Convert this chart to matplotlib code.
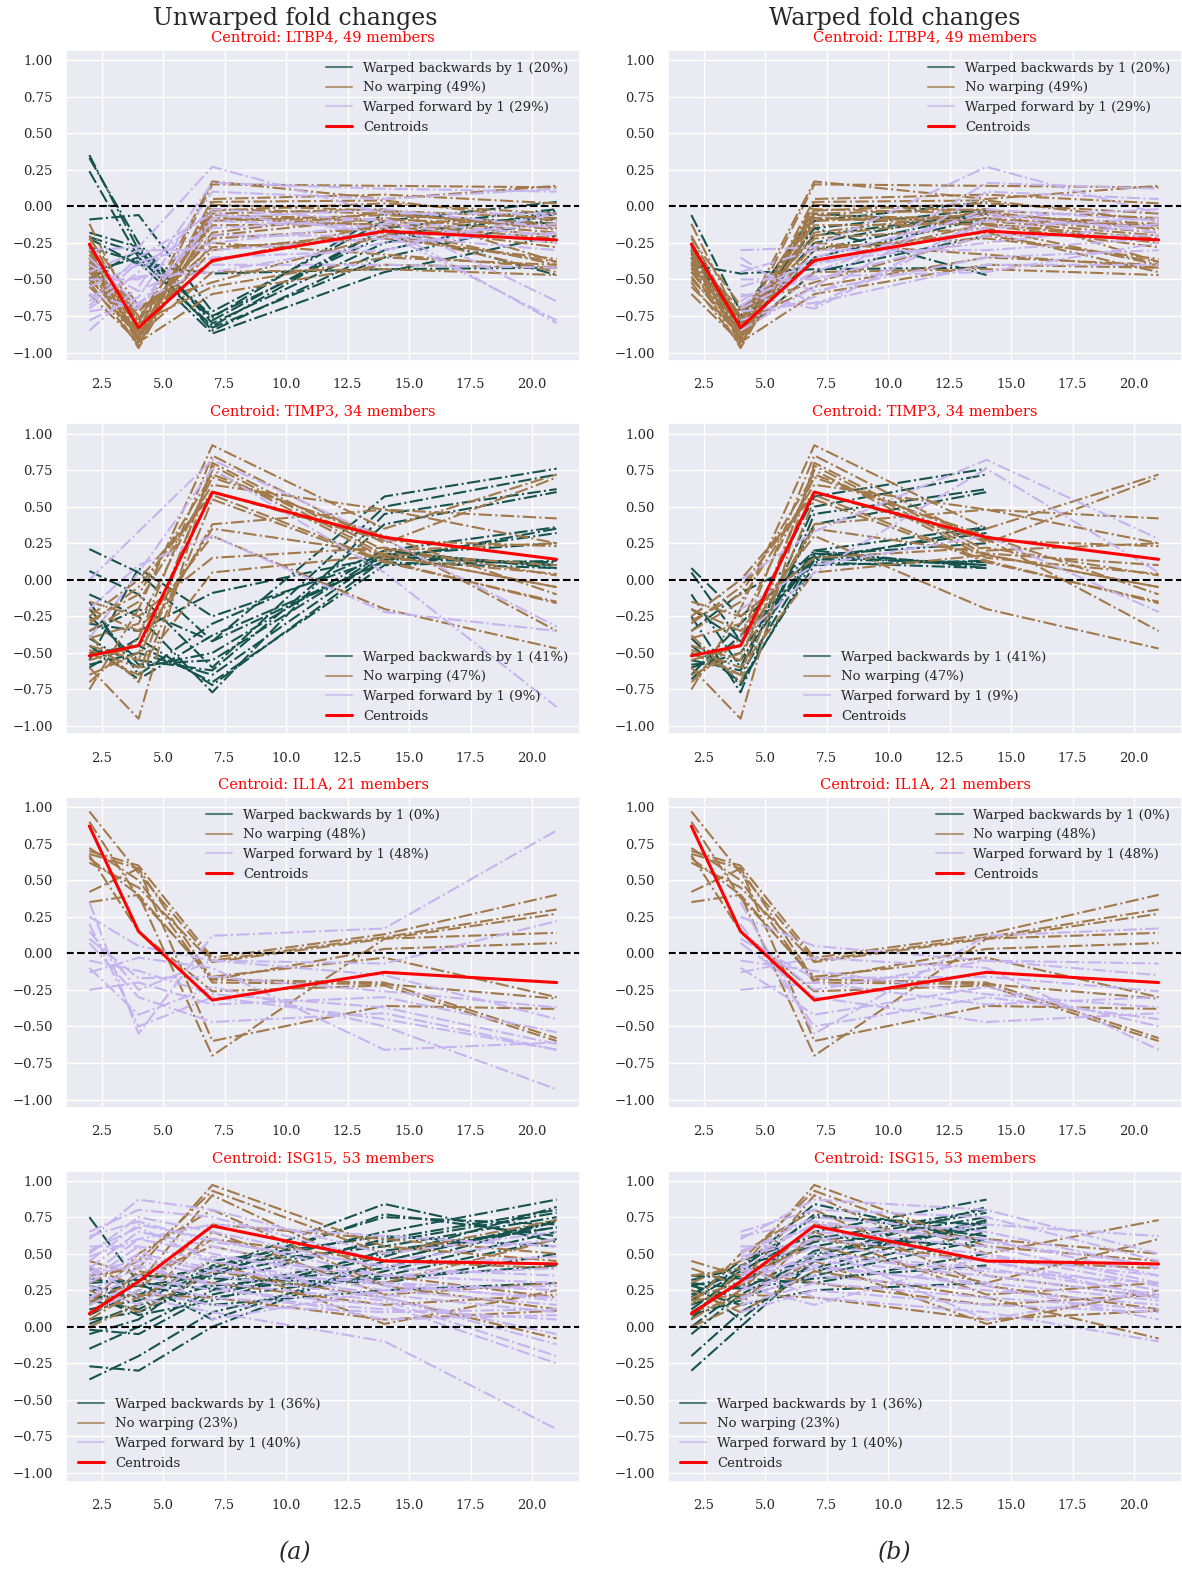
import numpy as np
import matplotlib
matplotlib.use("Agg")
import matplotlib.pyplot as plt
from matplotlib.lines import Line2D
import seaborn as sns

sns.set_theme(style="darkgrid", font="serif")
plt.rcParams["font.family"] = ["DejaVu Serif"]

days = [2, 4, 7, 14, 21]

# ---- LTBP4 cluster ----
ltbp4_centroid = [-0.26, -0.83, -0.37, -0.17, -0.23]
ltbp4_back = [
    [0.35, -0.30, -0.85, -0.30, -0.05],
    [0.33, -0.25, -0.80, -0.25, -0.03],
    [0.24, -0.35, -0.83, -0.35, -0.08],
    [-0.09, -0.06, -0.72, -0.10, 0.03],
    [-0.18, -0.28, -0.78, -0.15, -0.02],
    [-0.22, -0.40, -0.46, -0.43, -0.42],
    [-0.21, -0.32, -0.76, -0.05, -0.12],
    [-0.28, -0.38, -0.87, -0.45, -0.20],
    [-0.45, -0.35, -0.82, -0.15, -0.47],
    [-0.50, -0.30, -0.75, -0.20, -0.05],
]
ltbp4_none = [
    [-0.12, -0.80, 0.17, 0.05, 0.14],
    [-0.20, -0.85, 0.15, 0.14, 0.13],
    [-0.25, -0.90, 0.05, 0.08, 0.02],
    [-0.30, -0.95, 0.03, 0.04, -0.10],
    [-0.35, -0.92, -0.02, -0.05, -0.15],
    [-0.38, -0.88, -0.05, -0.02, -0.38],
    [-0.40, -0.82, -0.08, -0.10, -0.20],
    [-0.42, -0.97, -0.10, -0.06, -0.12],
    [-0.45, -0.86, -0.13, -0.12, -0.25],
    [-0.28, -0.78, -0.20, -0.08, -0.18],
    [-0.33, -0.75, -0.22, -0.15, -0.40],
    [-0.48, -0.90, -0.25, -0.33, -0.42],
    [-0.50, -0.84, -0.30, -0.18, -0.45],
    [-0.36, -0.70, -0.38, -0.12, -0.22],
    [-0.55, -0.88, -0.45, -0.43, -0.47],
    [-0.22, -0.68, -0.52, -0.20, -0.38],
    [-0.60, -0.93, -0.60, -0.40, -0.42],
    [-0.30, -0.80, -0.55, -0.35, -0.40],
    [-0.40, -0.91, 0.01, -0.03, -0.08],
    [-0.45, -0.77, -0.03, 0.02, -0.05],
    [-0.25, -0.86, -0.06, -0.09, -0.13],
    [-0.35, -0.83, -0.18, -0.04, -0.16],
    [-0.52, -0.95, -0.08, -0.13, -0.28],
    [-0.43, -0.72, -0.28, -0.22, -0.36],
]
ltbp4_fwd = [
    [-0.30, -0.28, 0.27, -0.05, -0.05],
    [-0.85, -0.55, 0.16, 0.12, 0.10],
    [-0.78, -0.62, 0.10, 0.05, 0.12],
    [-0.70, -0.45, -0.02, -0.10, -0.20],
    [-0.65, -0.35, -0.05, -0.18, -0.78],
    [-0.60, -0.70, -0.10, -0.14, -0.80],
    [-0.55, -0.40, -0.15, -0.08, -0.65],
    [-0.50, -0.50, -0.20, -0.20, -0.30],
    [-0.68, -0.38, -0.25, -0.12, -0.25],
    [-0.45, -0.30, -0.30, -0.22, -0.12],
    [-0.72, -0.66, -0.40, -0.40, -0.42],
    [-0.40, -0.58, -0.35, -0.30, -0.05],
    [-0.62, -0.48, -0.45, -0.25, -0.18],
    [-0.35, -0.68, -0.08, -0.02, -0.15],
]

# ---- TIMP3 cluster ----
timp3_centroid = [-0.52, -0.45, 0.60, 0.29, 0.14]
timp3_back = [
    [0.21, 0.05, -0.42, 0.57, 0.76],
    [0.06, -0.10, -0.60, 0.50, 0.72],
    [-0.10, -0.25, -0.77, 0.45, 0.62],
    [-0.25, -0.55, -0.62, 0.38, 0.60],
    [-0.40, -0.60, -0.50, 0.20, 0.36],
    [-0.55, 0.08, -0.25, 0.15, 0.32],
    [-0.30, -0.35, -0.09, 0.16, 0.10],
    [-0.45, -0.68, -0.38, 0.12, 0.08],
    [-0.60, -0.40, -0.72, 0.14, 0.12],
    [-0.20, -0.58, -0.55, 0.18, 0.10],
    [-0.35, -0.20, -0.42, 0.13, 0.35],
    [-0.50, -0.45, -0.70, 0.10, 0.13],
    [-0.15, -0.65, -0.30, 0.20, 0.08],
    [-0.58, -0.50, -0.65, 0.17, 0.25],
]
timp3_none = [
    [-0.75, -0.20, 0.92, 0.35, 0.72],
    [-0.70, -0.40, 0.85, 0.25, 0.70],
    [-0.60, -0.95, 0.80, 0.20, 0.25],
    [-0.50, -0.65, 0.78, 0.17, -0.05],
    [-0.45, -0.55, 0.75, 0.15, 0.04],
    [-0.40, -0.30, 0.70, 0.30, -0.10],
    [-0.35, -0.15, 0.65, 0.48, 0.42],
    [-0.30, -0.05, 0.60, 0.27, 0.23],
    [-0.25, 0.00, 0.58, 0.13, -0.16],
    [-0.65, -0.50, 0.38, 0.48, 0.25],
    [-0.55, -0.45, 0.35, 0.18, 0.10],
    [-0.20, -0.35, 0.30, -0.20, -0.47],
    [-0.15, -0.25, 0.15, 0.22, 0.03],
    [-0.48, -0.60, 0.05, 0.17, -0.05],
    [-0.38, -0.70, 0.55, 0.12, -0.15],
    [-0.28, -0.10, 0.72, 0.28, -0.35],
]
timp3_fwd = [
    [0.00, 0.33, 0.82, 0.28, -0.32],
    [-0.40, 0.05, 0.76, 0.05, -0.87],
    [-0.20, 0.10, 0.30, -0.22, -0.35],
]

# ---- IL1A cluster ----
il1a_centroid = [0.87, 0.15, -0.32, -0.13, -0.20]
il1a_back = []
il1a_none = [
    [0.97, 0.55, -0.05, 0.11, 0.30],
    [0.90, 0.38, -0.16, -0.03, -0.30],
    [0.70, 0.60, -0.03, 0.13, 0.40],
    [0.68, 0.58, -0.18, -0.20, -0.58],
    [0.65, 0.40, -0.70, 0.10, 0.14],
    [0.67, 0.15, -0.26, -0.22, -0.60],
    [0.42, 0.58, -0.60, -0.36, -0.38],
    [0.35, 0.40, -0.18, 0.03, 0.07],
    [0.62, 0.45, -0.06, 0.10, 0.27],
    [0.72, 0.50, -0.20, -0.21, -0.31],
]
il1a_fwd = [
    [0.35, -0.55, 0.12, 0.17, 0.84],
    [0.25, 0.05, -0.05, -0.07, 0.22],
    [0.10, -0.17, -0.16, -0.26, -0.37],
    [0.07, -0.30, -0.47, -0.41, -0.66],
    [-0.10, -0.42, -0.23, -0.50, -0.93],
    [-0.13, -0.03, -0.10, -0.66, -0.61],
    [-0.25, -0.20, -0.35, -0.30, -0.54],
    [0.20, -0.50, -0.30, -0.45, -0.66],
    [-0.05, -0.12, -0.28, -0.37, -0.62],
    [0.15, -0.25, -0.05, -0.15, -0.45],
]

# ---- ISG15 cluster ----
isg15_centroid = [0.09, 0.31, 0.69, 0.45, 0.43]
isg15_back = [
    [0.75, 0.30, 0.05, 0.45, 0.72],
    [0.30, 0.32, 0.40, 0.84, 0.58],
    [0.33, 0.28, 0.35, 0.77, 0.62],
    [0.20, 0.22, 0.40, 0.75, 0.70],
    [0.12, 0.18, 0.38, 0.65, 0.87],
    [0.05, 0.10, 0.30, 0.60, 0.80],
    [-0.05, 0.05, 0.42, 0.55, 0.75],
    [-0.15, 0.00, 0.25, 0.50, 0.68],
    [-0.27, -0.30, 0.00, 0.45, 0.73],
    [-0.36, -0.20, 0.10, 0.38, 0.65],
    [0.25, 0.28, 0.20, 0.35, 0.60],
    [0.15, 0.35, 0.33, 0.30, 0.50],
    [0.08, 0.25, 0.15, 0.25, 0.30],
    [0.02, 0.15, 0.28, 0.40, 0.72],
    [0.28, 0.20, 0.45, 0.62, 0.55],
    [-0.02, -0.05, 0.22, 0.48, 0.82],
    [0.18, 0.12, 0.36, 0.58, 0.78],
    [0.10, 0.30, 0.26, 0.33, 0.42],
    [0.22, 0.08, 0.18, 0.52, 0.68],
]
isg15_none = [
    [0.35, 0.40, 0.97, 0.55, 0.45],
    [0.30, 0.45, 0.93, 0.50, 0.73],
    [0.20, 0.30, 0.90, 0.35, 0.20],
    [0.15, 0.50, 0.80, 0.28, 0.12],
    [0.05, 0.25, 0.70, 0.60, 0.50],
    [0.00, 0.15, 0.65, 0.22, 0.30],
    [0.45, 0.35, 0.55, 0.30, 0.60],
    [0.10, 0.20, 0.45, 0.02, 0.25],
    [0.25, 0.10, 0.38, 0.20, -0.08],
    [0.40, 0.28, 0.60, 0.45, 0.40],
    [0.08, 0.38, 0.30, 0.15, 0.22],
    [0.18, 0.22, 0.20, 0.05, 0.11],
]
isg15_fwd = [
    [0.60, 0.87, 0.80, 0.50, 0.65],
    [0.65, 0.80, 0.75, 0.45, 0.60],
    [0.50, 0.75, 0.65, 0.40, 0.35],
    [0.45, 0.70, 0.60, 0.35, 0.30],
    [0.40, 0.65, 0.55, 0.30, 0.25],
    [0.35, 0.60, 0.50, 0.28, 0.20],
    [0.55, 0.55, 0.45, 0.25, 0.15],
    [0.30, 0.50, 0.40, 0.22, 0.10],
    [0.38, 0.45, 0.35, 0.20, -0.05],
    [0.25, 0.40, 0.30, 0.18, -0.20],
    [0.20, 0.35, 0.25, 0.15, -0.25],
    [0.15, 0.30, 0.20, 0.12, 0.05],
    [0.10, 0.25, 0.15, 0.10, 0.12],
    [0.42, 0.20, 0.10, -0.10, -0.70],
    [0.48, 0.60, 0.70, 0.62, 0.55],
    [0.32, 0.55, 0.05, 0.25, 0.28],
    [0.28, 0.15, 0.48, 0.35, 0.40],
    [0.62, 0.72, 0.58, 0.42, 0.48],
    [0.18, 0.48, 0.38, 0.30, 0.18],
    [0.52, 0.68, 0.45, 0.20, -0.12],
    [0.36, 0.42, 0.28, 0.05, 0.08],
]

cluster_names = ["LTBP4", "TIMP3", "IL1A", "ISG15"]
cluster_sizes = [49, 34, 21, 53]
pct_back = [20, 41, 0, 36]
pct_none = [49, 47, 48, 23]
pct_fwd = [29, 9, 48, 40]
legend_locs = [["upper right", "upper right"],
               ["lower right", "lower center"],
               ["upper center", "upper right"],
               ["lower left", "lower left"]]

clusters = [
    (ltbp4_centroid, ltbp4_back, ltbp4_none, ltbp4_fwd),
    (timp3_centroid, timp3_back, timp3_none, timp3_fwd),
    (il1a_centroid, il1a_back, il1a_none, il1a_fwd),
    (isg15_centroid, isg15_back, isg15_none, isg15_fwd),
]

c_back, c_none, c_fwd = plt.cm.cubehelix([0.25, 0.5, 0.75])

W, H = 1182, 1570
fig = plt.figure(figsize=(W / 100, H / 100), dpi=100)

ax_w, ax_h = 514, 311
lefts = [66, 668]
tops = [50, 423.5, 797, 1170.5]

x = np.array(days, dtype=float)
for r, (cen, back, none, fwd) in enumerate(clusters):
    for c in range(2):
        ax = fig.add_axes([lefts[c] / W, 1 - (tops[r] + ax_h) / H, ax_w / W, ax_h / H])
        warped = c == 1
        for row in back:
            row = np.array(row)
            if warped:
                ax.plot(x[:-1], row[1:], '-.', color=c_back, lw=1.5)
            else:
                ax.plot(x, row, '-.', color=c_back, lw=1.5)
        for row in none:
            ax.plot(x, row, '-.', color=c_none, lw=1.5)
        for row in fwd:
            row = np.array(row)
            if warped:
                ax.plot(x[1:], row[:-1], '-.', color=c_fwd, lw=1.5)
            else:
                ax.plot(x, row, '-.', color=c_fwd, lw=1.5)
        ax.plot(x, cen, color='red', lw=2.2)
        ax.axhline(0, color='black', ls='--', lw=1.5)
        ax.set_ylim(-1.058, 1.069)
        ax.set_yticks(np.arange(-1, 1.01, 0.25))
        ax.tick_params(labelsize=9.5)
        ax.tick_params(axis='x', pad=plt.rcParams['xtick.major.pad'] + 3)
        ax.set_title(f"Centroid: {cluster_names[r]}, {cluster_sizes[r]} members",
                     color='red', fontsize=10.5, pad=6)
        handles = [
            Line2D([], [], color=c_back, lw=1.5, alpha=0.7),
            Line2D([], [], color=c_none, lw=1.5, alpha=0.7),
            Line2D([], [], color=c_fwd, lw=1.5, alpha=0.7),
            Line2D([], [], color='red', lw=2.2),
        ]
        labels = [f"Warped backwards by 1 ({pct_back[r]}%)",
                  f"No warping ({pct_none[r]}%)",
                  f"Warped forward by 1 ({pct_fwd[r]}%)",
                  "Centroids"]
        ax.legend(handles, labels, loc=legend_locs[r][c], frameon=False, fontsize=9.5)

fig.text(295 / W, 1 - 19 / H, "Unwarped fold changes", ha='center', va='center', fontsize=17)
fig.text(895 / W, 1 - 19 / H, "Warped fold changes", ha='center', va='center', fontsize=17)
fig.text(295 / W, 1 - 1553 / H, "(a)", ha='center', va='center', fontsize=17, style='italic')
fig.text(895 / W, 1 - 1553 / H, "(b)", ha='center', va='center', fontsize=17, style='italic')

fig.savefig("out.png", dpi=100)
